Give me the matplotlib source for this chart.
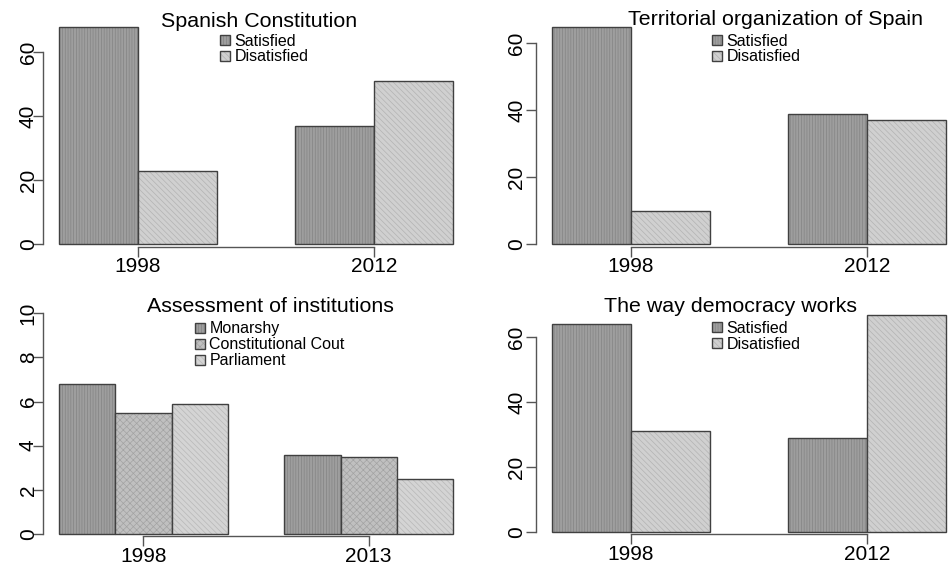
import numpy as np
import matplotlib
matplotlib.use("Agg")
import matplotlib.pyplot as plt

plt.rcParams['font.family'] = ['Liberation Sans', 'DejaVu Sans']
plt.rcParams['hatch.linewidth'] = 0.5

# data
years_a = ['1998', '2012']
years_b = ['1998', '2013']
two_labels = ['Satisfied', 'Disatisfied']
inst_labels = ['Monarshy', 'Constitutional Cout', 'Parliament']

constitution = [[68, 37], [23, 51]]
territorial = [[65, 39], [10, 37]]
institutions = [[6.8, 3.6], [5.5, 3.5], [5.9, 2.5]]
democracy = [[64, 29], [31, 67]]

# styles (fill, hatch, hatch colour)
STY2 = [('#9e9e9e', '||||||', '#838383'), ('#d0d0d0', '\\\\\\\\\\\\', '#b3b3b3')]
STY3 = [('#9e9e9e', '||||||', '#838383'), ('#c0c0c0', 'xxxxx', '#a3a3a3'),
        ('#d4d4d4', '\\\\\\\\\\\\', '#b8b8b8')]

W, H = 949, 566
fig = plt.figure(figsize=(W / 100, H / 100), dpi=100)


def px_axes(left, top, right, bottom):
    return fig.add_axes([left / W, 1 - bottom / H, (right - left) / W, (bottom - top) / H])


def barplot(ax, series, labels, groups, styles, xlim, ylim, yticks, ypad):
    n = len(series)
    handles = []
    for i, vals in enumerate(series):
        # R style beside=TRUE positions: one gap between groups
        xs = [1.5 + i + g * (n + 1) for g in range(len(groups))]
        fc, hatch, hc = styles[i]
        b = ax.bar(xs, vals, width=1.0, facecolor=fc, edgecolor='#404040',
                   linewidth=1.0, hatch=hatch, label=labels[i])
        for p in b:
            p._hatch_color = matplotlib.colors.to_rgba(hc)
        handles.append(b)
    centers = [1 + n / 2 + g * (n + 1) for g in range(len(groups))]
    ax.set_xlim(*xlim)
    ax.set_ylim(*ylim)
    ax.set_xticks(centers)
    ax.set_xticklabels(groups)
    ax.set_yticks(yticks)
    ax.set_yticklabels([str(t) for t in yticks], rotation=90, va='center')
    for s in ['top', 'right']:
        ax.spines[s].set_visible(False)
    ax.spines['left'].set_bounds(yticks[0], yticks[-1])
    ax.spines['bottom'].set_bounds(centers[0], centers[-1])
    for s in ['left', 'bottom']:
        ax.spines[s].set_color('#555555')
        ax.spines[s].set_linewidth(1.0)
    ax.tick_params(axis='both', labelsize=15, length=7, width=1.0, color='#555555')
    ax.tick_params(axis='x', pad=0.5)
    ax.tick_params(axis='y', pad=ypad)
    ax.patch.set_visible(False)
    return handles


def add_legend(ax, handles, labels, x, y):
    ax.legend(handles, labels, loc='upper left', bbox_to_anchor=(x / W, 1 - y / H),
              bbox_transform=fig.transFigure, frameon=False, fontsize=11.5,
              borderpad=0, borderaxespad=0, handlelength=0.6, handleheight=0.6,
              handletextpad=0.3, labelspacing=0.06)


# top left
ax1 = px_axes(43.2, 17, 468.8, 246.7)
h = barplot(ax1, constitution, two_labels, years_a, STY2, (0.8, 6.2), (-0.75, 71.0), [0, 20, 40, 60], -3)
add_legend(ax1, h, two_labels, 220, 33.5)
fig.text(259 / W, 1 - 27.3 / H, 'Spanish Constitution', ha='center', va='baseline', fontsize=15.4)

# top right
ax2 = px_axes(535.9, 17, 962.1, 246.7)
h = barplot(ax2, territorial, two_labels, years_a, STY2, (0.8, 6.2), (-0.72, 67.85), [0, 20, 40, 60], 0)
add_legend(ax2, h, two_labels, 712.3, 33.5)
fig.text(775.8 / W, 1 - 25 / H, 'Territorial organization of Spain', ha='center', va='baseline', fontsize=15.4)

# bottom left
ax3 = px_axes(43.2, 300, 469, 536.3)
h = barplot(ax3, institutions, inst_labels, years_b, STY3, (0.72, 8.28), (-0.105, 10.6), [0, 2, 4, 6, 8, 10], -3)
add_legend(ax3, h, inst_labels, 195, 321.5)
fig.text(270.8 / W, 1 - 311.7 / H, 'Assessment of institutions', ha='center', va='baseline', fontsize=15.4)

# bottom right
ax4 = px_axes(535.9, 300, 962.1, 534.3)
h = barplot(ax4, democracy, two_labels, years_a, STY2, (0.8, 6.2), (-0.71, 71.5), [0, 20, 40, 60], 0)
add_legend(ax4, h, two_labels, 712.3, 321)
fig.text(730 / W, 1 - 312.3 / H, 'The way democracy works', ha='center', va='baseline', fontsize=15.4)

fig.savefig('out.png', dpi=100)
